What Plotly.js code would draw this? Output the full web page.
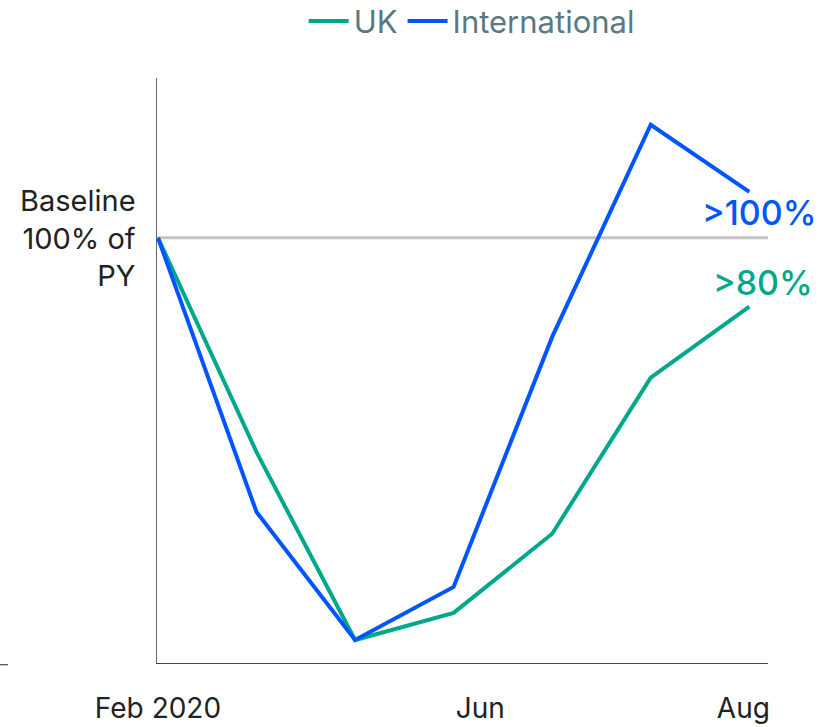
<!DOCTYPE html>
<html>
<head>
<meta charset="utf-8">
<script src="https://cdn.plot.ly/plotly-3.0.1.min.js"></script>
<style>html,body{margin:0;padding:0;background:#fff;}#chart{width:818px;height:727px;}</style>
</head>
<body>
<div id="chart"></div>
<script>
// Data (percentage of prior year)
const months = ['Feb 2020', 'Mar', 'Apr', 'May', 'Jun', 'Jul', 'Aug'];
const ukValues = [100, 49.6, 5.4, 11.8, 30.4, 67.1, 83.8];
const intlValues = [100, 35.5, 5.4, 17.9, 76.7, 126.6, 110.8];
const tickLabels = ['Feb 2020', 'Jun', 'Aug'];
const tickPositions = [0, 3.27, 5.94];
const baselineValue = 100;

const green = '#00A88A';
const blue = '#0055FF';
const fontFam = 'Inter, "Noto Sans", sans-serif';

const xIdx = months.map((m, i) => i);

const traces = [
  {x: xIdx, y: ukValues, type: 'scatter', mode: 'lines', name: 'UK',
   line: {color: green, width: 4}, text: months, hoverinfo: 'text+y'},
  {x: xIdx, y: intlValues, type: 'scatter', mode: 'lines', name: 'International',
   line: {color: blue, width: 4}, text: months, hoverinfo: 'text+y'}
];

const layout = {
  width: 818, height: 727,
  margin: {l: 157, r: 50, t: 78, b: 64, autoexpand: false},
  paper_bgcolor: '#fff', plot_bgcolor: '#fff',
  font: {family: fontFam, color: '#222'},
  showlegend: true,
  legend: {orientation: 'h', x: 0.515, xanchor: 'center', y: 1.097, yanchor: 'middle',
           font: {size: 31, color: '#5A7A80', family: fontFam}, traceorder: 'normal',
           itemwidth: 40},
  xaxis: {range: [-0.01, 6.19], showgrid: false, zeroline: false,
          showline: true, linecolor: '#444', linewidth: 1,
          tickmode: 'array', tickvals: tickPositions, ticktext: tickLabels,
          ticks: 'outside', ticklen: 20, tickcolor: 'rgba(0,0,0,0)',
          tickfont: {size: 28, color: '#222', family: fontFam}},
  yaxis: {range: [0, 137.6], showgrid: false, zeroline: false,
          showline: true, linecolor: '#666', linewidth: 1.5,
          showticklabels: false, ticks: ''},
  shapes: [
    {type: 'line', xref: 'paper', yref: 'y', x0: 0, x1: 1, y0: baselineValue, y1: baselineValue,
     line: {color: '#C4C4C4', width: 3}, layer: 'below'},
    {type: 'line', xref: 'paper', yref: 'paper', x0: -0.257, x1: -0.244, y0: -0.003, y1: -0.003,
     line: {color: '#222', width: 1}}
  ],
  annotations: [
    {xref: 'paper', yref: 'y', x: 0, y: baselineValue, xanchor: 'right', yanchor: 'middle',
     xshift: -19, align: 'right', showarrow: false,
     text: 'Baseline<br>100% of<br>PY', font: {size: 29, color: '#222', family: fontFam}},
    {xref: 'paper', yref: 'y', x: 1, y: 105.9, xanchor: 'right', yanchor: 'middle',
     xshift: 50, showarrow: false, text: '>100%',
     font: {size: 34, color: blue, family: fontFam, weight: 500}},
    {xref: 'paper', yref: 'y', x: 1, y: 89.6, xanchor: 'right', yanchor: 'middle',
     xshift: 47, showarrow: false, text: '>80%',
     font: {size: 34, color: green, family: fontFam, weight: 500}}
  ]
};

Plotly.newPlot('chart', traces, layout, {displayModeBar: false, staticPlot: true});
</script>
</body>
</html>
